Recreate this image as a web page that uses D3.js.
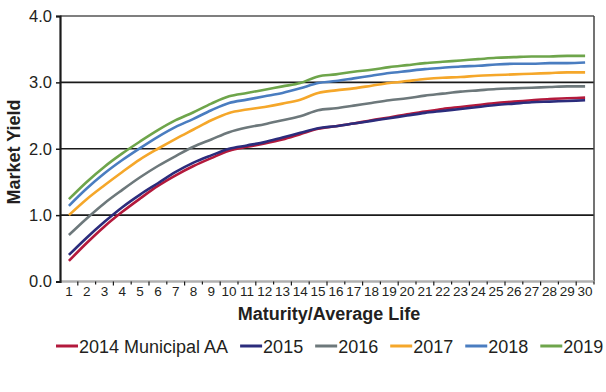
<!DOCTYPE html>
<html>
<head>
<meta charset="utf-8">
<script src="https://cdn.jsdelivr.net/npm/d3@7"></script>
<style>
  body { margin: 0; background: #fff; }
  text { font-family: "Liberation Sans", Arial, sans-serif; fill: #231f20; }
</style>
</head>
<body>
<div id="chart"></div>
<script>
// maturity buckets 1..30
var maturity = ["1","2","3","4","5","6","7","8","9","10","11","12","13","14","15",
                "16","17","18","19","20","21","22","23","24","25","26","27","28","29","30"];

var y2014 = [0.31,0.58,0.83,1.05,1.25,1.44,1.60,1.74,1.86,1.97,2.03,2.08,2.14,2.22,2.30,
             2.34,2.38,2.43,2.47,2.52,2.56,2.60,2.63,2.66,2.69,2.71,2.73,2.75,2.76,2.77];
var y2015 = [0.40,0.66,0.90,1.12,1.31,1.48,1.65,1.79,1.90,2.00,2.05,2.10,2.17,2.24,2.31,
             2.34,2.38,2.42,2.46,2.50,2.54,2.57,2.60,2.63,2.66,2.68,2.70,2.71,2.72,2.73];
var y2016 = [0.70,0.95,1.18,1.38,1.57,1.74,1.89,2.03,2.14,2.25,2.32,2.37,2.43,2.49,2.58,
             2.61,2.65,2.69,2.73,2.76,2.80,2.83,2.86,2.88,2.90,2.91,2.92,2.93,2.94,2.94];
var y2017 = [1.00,1.24,1.45,1.65,1.84,2.00,2.15,2.29,2.43,2.54,2.59,2.63,2.68,2.74,2.84,
             2.88,2.91,2.95,2.99,3.02,3.05,3.07,3.08,3.10,3.11,3.12,3.13,3.14,3.15,3.15];
var y2018 = [1.14,1.40,1.63,1.83,2.01,2.18,2.33,2.45,2.58,2.69,2.74,2.79,2.84,2.91,2.99,
             3.02,3.06,3.10,3.14,3.17,3.20,3.22,3.24,3.25,3.27,3.28,3.28,3.29,3.29,3.30];
var y2019 = [1.24,1.50,1.73,1.93,2.11,2.28,2.43,2.55,2.68,2.79,2.84,2.89,2.94,2.99,3.09,
             3.12,3.16,3.19,3.23,3.26,3.29,3.31,3.33,3.35,3.37,3.38,3.39,3.39,3.40,3.40];

var seriesNames = ["2014 Municipal AA","2015","2016","2017","2018","2019"];
var seriesColors = ["#b3193c","#2b2c7c","#6d787b","#f5a72a","#4a7dc0","#6ea54b"];
var seriesValues = [y2014, y2015, y2016, y2017, y2018, y2019];
var yTicks = [0, 1, 2, 3, 4];

var width = 606, height = 392;
var margin = {left: 60, right: 12, top: 16, bottom: 111};

var svg = d3.select("#chart").append("svg")
    .attr("width", width)
    .attr("height", height);

var x = d3.scaleBand()
    .domain(maturity)
    .range([margin.left, width - margin.right]);

var y = d3.scaleLinear()
    .domain([0, 4])
    .range([height - margin.bottom + 0.5, margin.top]);

// horizontal grid lines (1.0, 2.0, 3.0 black, top one grey)
svg.append("g").selectAll("line")
    .data(yTicks.filter(function(d){ return d > 0; }))
    .enter().append("line")
    .attr("x1", margin.left)
    .attr("x2", width - margin.right)
    .attr("y1", function(d){ return y(d); })
    .attr("y2", function(d){ return y(d); })
    .attr("stroke", function(d){ return d == 4 ? "#555" : "#1a1a1a"; })
    .attr("stroke-width", 1.6);

// right border
svg.append("line")
    .attr("x1", width - margin.right).attr("x2", width - margin.right)
    .attr("y1", y(4)).attr("y2", y(0))
    .attr("stroke", "#444").attr("stroke-width", 1.5);

// bottom axis line
svg.append("line")
    .attr("x1", margin.left).attr("x2", width - margin.right)
    .attr("y1", y(0)).attr("y2", y(0))
    .attr("stroke", "#b0b0b0").attr("stroke-width", 2.5);

// x ticks at band boundaries
svg.append("g").selectAll("line")
    .data(maturity)
    .enter().append("line")
    .attr("x1", function(d){ return x(d) + x.bandwidth(); })
    .attr("x2", function(d){ return x(d) + x.bandwidth(); })
    .attr("y1", y(0))
    .attr("y2", function(d, i){ return y(0) + (i % 2 == 0 ? 4 : 3); })
    .attr("stroke", "#1a1a1a").attr("stroke-width", 1.2);

// x tick labels
var xAxis = svg.append("g")
    .attr("transform", "translate(0," + y(0) + ")")
    .call(d3.axisBottom(x).tickSize(0).tickPadding(5));
xAxis.select(".domain").remove();
xAxis.selectAll("text")
    .style("font-size", "13.5px")
    .style("font-family", "'Liberation Sans', Arial, sans-serif")
    .attr("fill", "#231f20");

// y axis
var yAxis = svg.append("g")
    .attr("transform", "translate(" + margin.left + ",0)")
    .call(d3.axisLeft(y).tickValues(yTicks).tickFormat(d3.format(".1f")).tickSize(4).tickPadding(4));
yAxis.select(".domain").attr("stroke", "#1a1a1a").attr("stroke-width", 2.2);
yAxis.selectAll(".tick line").attr("stroke", "#1a1a1a").attr("stroke-width", 1.5);
yAxis.selectAll("text")
    .style("font-size", "16.5px")
    .style("font-family", "'Liberation Sans', Arial, sans-serif")
    .attr("fill", "#231f20");

// the curves
var line = d3.line()
    .x(function(d, i){ return x(maturity[i]) + x.bandwidth() / 2; })
    .y(function(d){ return y(d); })
    .curve(d3.curveMonotoneX);

svg.append("g").selectAll("path")
    .data(seriesValues)
    .enter().append("path")
    .attr("d", function(d){ return line(d); })
    .attr("fill", "none")
    .attr("stroke", function(d, i){ return seriesColors[i]; })
    .attr("stroke-width", 2.6)
    .attr("stroke-linejoin", "round");

// axis titles
svg.append("text")
    .attr("x", 329)
    .attr("y", 320)
    .attr("text-anchor", "middle")
    .style("font-size", "18px")
    .style("font-weight", "bold")
    .text("Maturity/Average Life");

svg.append("text")
    .attr("transform", "translate(20," + 152 + ") rotate(-90)")
    .attr("text-anchor", "middle")
    .style("font-size", "18px")
    .style("font-weight", "bold")
    .text("Market Yield");

// legend
var legend = svg.append("g");
var lx = 56;
seriesNames.forEach(function(name, i) {
    legend.append("line")
        .attr("x1", lx).attr("x2", lx + 22)
        .attr("y1", 346).attr("y2", 346)
        .attr("stroke", seriesColors[i])
        .attr("stroke-width", 3);
    var t = legend.append("text")
        .attr("x", lx + 23)
        .attr("y", 353)
        .style("font-size", "18px")
        .text(name);
    lx = lx + 23 + t.node().getComputedTextLength() + 12;
});
</script>
</body>
</html>
